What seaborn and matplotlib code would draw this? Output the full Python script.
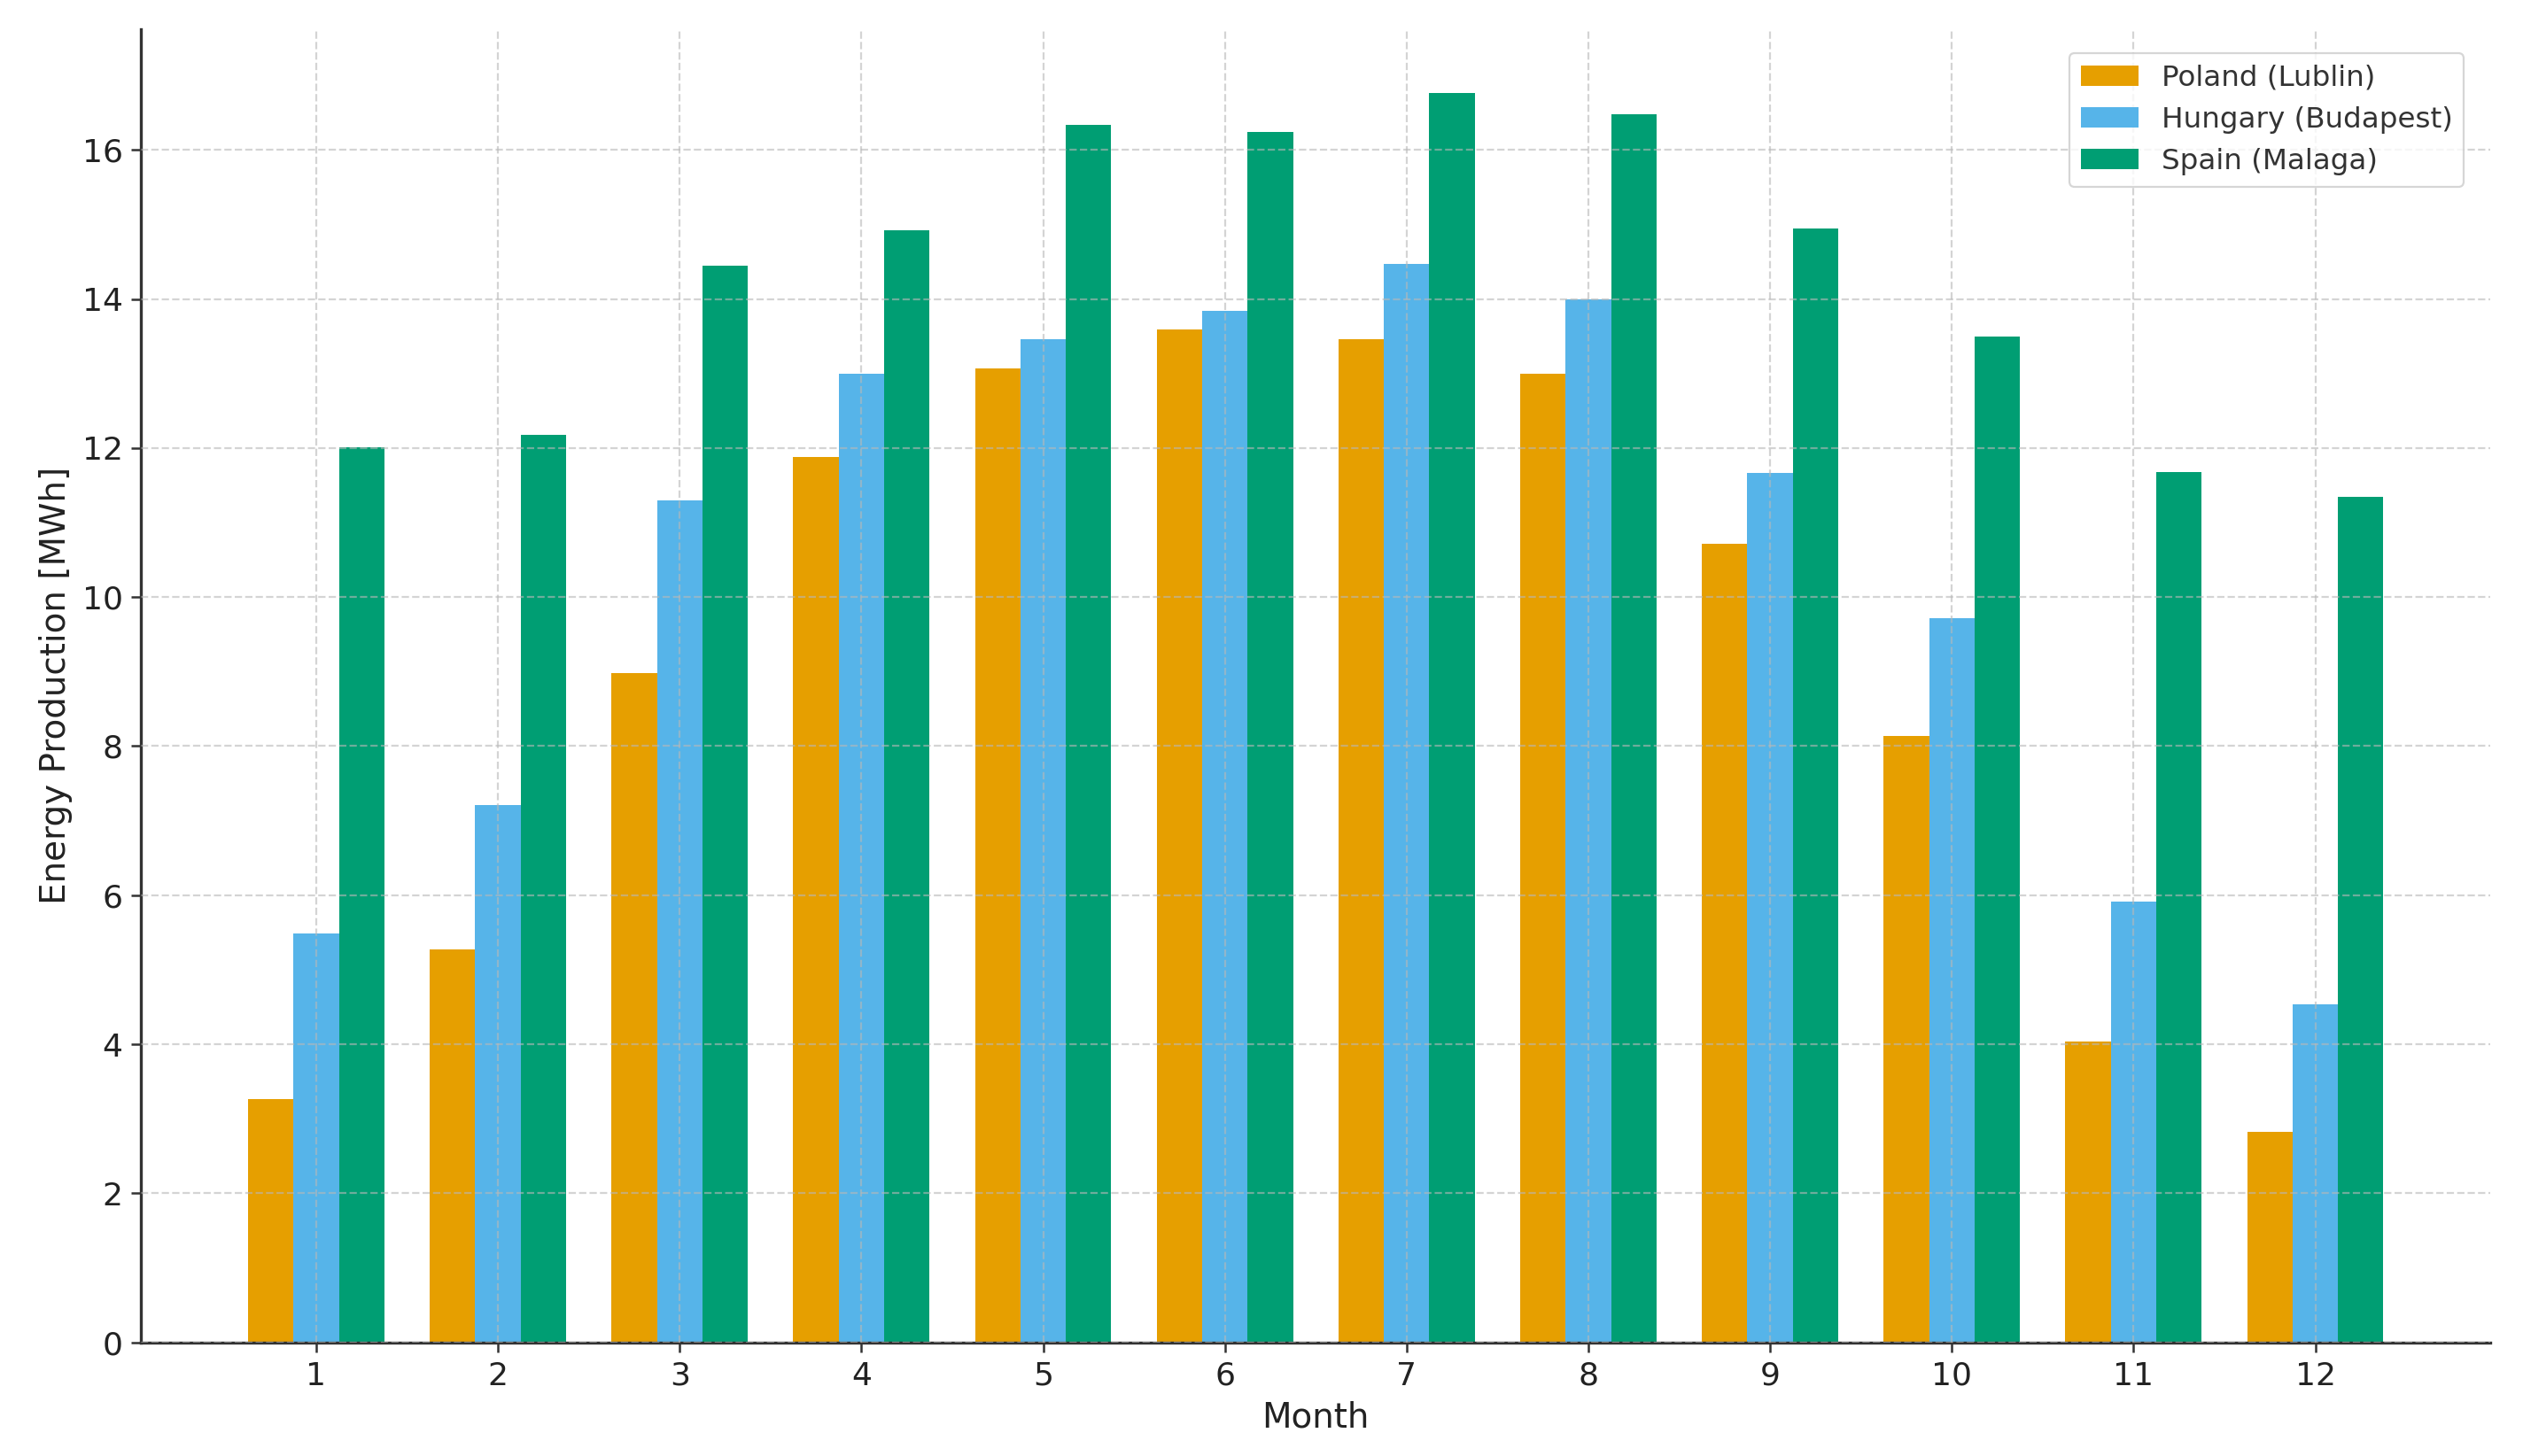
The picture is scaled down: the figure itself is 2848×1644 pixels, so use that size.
import numpy as np
import pandas as pd
import matplotlib.pyplot as plt
import seaborn as sns

# monthly energy production, MWh
months = [str(m) for m in range(1, 13)]
poland = [3.26, 5.27, 8.98, 11.88, 13.07, 13.59, 13.46, 13.00, 10.71, 8.14, 4.04, 2.83]
hungary = [5.49, 7.21, 11.30, 13.00, 13.46, 13.84, 14.47, 14.00, 11.66, 9.72, 5.92, 4.54]
spain = [12.01, 12.18, 14.45, 14.92, 16.33, 16.24, 16.76, 16.48, 14.95, 13.50, 11.68, 11.34]
sites = ['Poland (Lublin)', 'Hungary (Budapest)', 'Spain (Malaga)']
colors = ['#E69F00', '#56B4E9', '#009E73']

df = pd.DataFrame({
    'Month': months * 3,
    'Energy': poland + hungary + spain,
    'Site': np.repeat(sites, len(months)),
})

sns.set_style('white')
plt.rcParams['font.family'] = ['DejaVu Sans']

fig, ax = plt.subplots(figsize=(14.24, 8.22), dpi=200)
fig.subplots_adjust(left=0.056, right=0.987, top=0.98, bottom=0.078)

sns.barplot(data=df, x='Month', y='Energy', hue='Site', order=months,
            hue_order=sites, palette=dict(zip(sites, colors)),
            saturation=1, width=0.75, linewidth=0, ax=ax)

# matplotlib-style default margins around the bars
ax.set_xlim(-0.9625, 11.9625)
ax.set_ylim(0, 17.62)
ax.set_yticks(np.arange(0, 17, 2))
ax.grid(True, linestyle='--', color='#b8b8b8', alpha=0.6, linewidth=0.8)
ax.set_axisbelow(False)

for side in ['top', 'right']:
    ax.spines[side].set_visible(False)
for side in ['left', 'bottom']:
    ax.spines[side].set_color('#333333')
    ax.spines[side].set_linewidth(1.2)

ax.tick_params(axis='both', which='both', length=4, width=0.9,
               color='#333333', labelsize=13, labelcolor='#222222',
               bottom=True, left=True)
ax.set_xlabel('Month', fontsize=14, color='#222222')
ax.set_ylabel('Energy Production [MWh]', fontsize=14, color='#222222')

leg = ax.legend(loc='upper right', fontsize=11.7, frameon=True,
                bbox_to_anchor=(0.995, 0.993), handlelength=2.0)
leg.get_frame().set_edgecolor('#cccccc')
leg.get_frame().set_linewidth(0.8)
for t in leg.get_texts():
    t.set_color('#333333')

plt.savefig('out.png', dpi=200)
